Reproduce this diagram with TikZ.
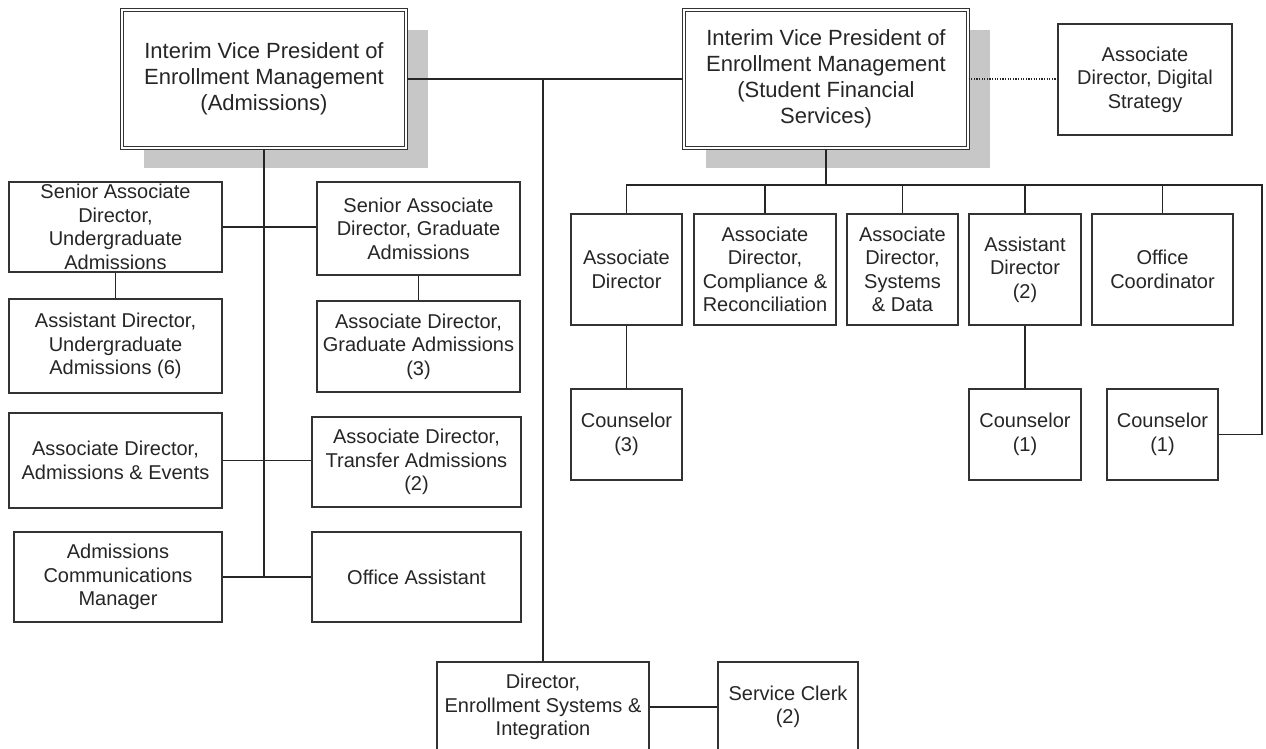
\documentclass[tikz,border=0pt]{standalone}
\usepackage{fontspec}
\setmainfont{Liberation Sans}
\usepackage{tikz}
\usetikzlibrary{shadows}

\tikzset{
	unit/.style={draw=black!80, line width=1.3pt, fill=white, inner sep=0pt, align=center, text=black!85, font=\fontsize{20}{23.5}\selectfont},
	vpbox/.style={unit, line width=1.1pt, double, double distance=2pt, minimum width=284pt, minimum height=138pt, font=\fontsize{22}{26}\selectfont, drop shadow={shadow xshift=22pt, shadow yshift=-20pt, fill=black!22, opacity=1}},
	link/.style={draw=black!85, line width=1.3pt}
}

\begin{document}
\begin{tikzpicture}[x=1pt, y=-1pt]
		\useasboundingbox (0,0) rectangle (1266,749);
		\coordinate (bus) at (826,185);
		\coordinate (busend) at (1262,185);
		\node[vpbox] (vpadm) at (264,79) {Interim Vice President of\\Enrollment Management\\(Admissions)};
		\node[vpbox] (vpsfs) at (826,79) {Interim Vice President of\\Enrollment Management\\(Student Financial\\Services)};
		\node[unit, minimum width=174pt, minimum height=111pt] (adds) at (1145,79.5) {Associate\\Director, Digital\\Strategy};
		\node[unit, minimum width=213pt, minimum height=90pt] (sadug) at (115.5,227) {Senior Associate\\Director,\\Undergraduate\\Admissions};
		\node[unit, minimum width=203pt, minimum height=93pt] (sadgrad) at (418.5,228.5) {Senior Associate\\Director, Graduate\\Admissions};
		\node[unit, minimum width=213pt, minimum height=94pt] (adug) at (115.5,346) {Assistant Director,\\Undergraduate\\Admissions (6)};
		\node[unit, minimum width=203pt, minimum height=91pt] (adgrad) at (418.5,346.5) {Associate Director,\\Graduate Admissions\\(3)};
		\node[unit, minimum width=213pt, minimum height=95pt] (adevents) at (115.5,460.5) {Associate Director,\\Admissions \& Events};
		\node[unit, minimum width=209pt, minimum height=90pt] (adtransfer) at (416.5,462) {Associate Director,\\Transfer Admissions\\(2)};
		\node[unit, minimum width=208pt, minimum height=90pt] (acm) at (118,577) {Admissions\\Communications\\Manager};
		\node[unit, minimum width=209pt, minimum height=90pt] (offasst) at (416.5,577) {Office Assistant};
		\node[unit, minimum width=111pt, minimum height=111pt] (assocdir) at (626.5,269.5) {Associate\\Director};
		\node[unit, minimum width=142pt, minimum height=111pt] (adcomp) at (765,269.5) {Associate\\Director,\\Compliance \&\\Reconciliation};
		\node[unit, minimum width=111pt, minimum height=111pt] (adsys) at (902.5,269.5) {Associate\\Director,\\Systems\\\& Data};
		\node[unit, minimum width=112pt, minimum height=111pt] (asstdir) at (1025,269.5) {Assistant\\Director\\(2)};
		\node[unit, minimum width=141pt, minimum height=111pt] (offcoord) at (1162.5,269.5) {Office\\Coordinator};
		\node[unit, minimum width=111pt, minimum height=91pt] (couns3) at (626.5,434.5) {Counselor\\(3)};
		\node[unit, minimum width=112pt, minimum height=91pt] (counsa) at (1025,434.5) {Counselor\\(1)};
		\node[unit, minimum width=111pt, minimum height=91pt] (counsb) at (1162.5,434.5) {Counselor\\(1)};
		\node[unit, minimum width=212pt, minimum height=90pt] (dires) at (543,707) {Director,\\Enrollment Systems \&\\Integration};
		\node[unit, minimum width=140pt, minimum height=90pt] (clerk) at (788,707) {Service Clerk\\(2)};
		\draw[link] (vpadm.east) -- (vpsfs.west);
		\draw[link] (dires.north) -- (dires.north |- vpadm.east);
		\draw[link] (vpadm.south) -- (vpadm.south |- acm.east);
		\draw[link] (sadug.east) -- (sadug.east -| sadgrad.west);
		\draw[link] (sadug.south) -- (adug.north);
		\draw[link] (sadgrad.south) -- (adgrad.north);
		\draw[link] (adevents.east) -- (adevents.east -| adtransfer.west);
		\draw[link] (acm.east) -- (offasst.west);
		\draw[link] (dires.east) -- (clerk.west);
		\draw[link, dash pattern=on 1.3pt off 1.3pt] (vpsfs.east) -- (vpsfs.east -| adds.west);
		\draw[link] (vpsfs.south) -- (bus);
		\draw[link] (assocdir.north) |- (busend) |- (counsb.east);
		\foreach \n in {adcomp,adsys,asstdir,offcoord}
			\draw[link] (\n.north) -- (\n.north |- bus);
		\draw[link] (assocdir.south) -- (couns3.north);
		\draw[link] (asstdir.south) -- (counsa.north);
	\end{tikzpicture}
\end{document}
